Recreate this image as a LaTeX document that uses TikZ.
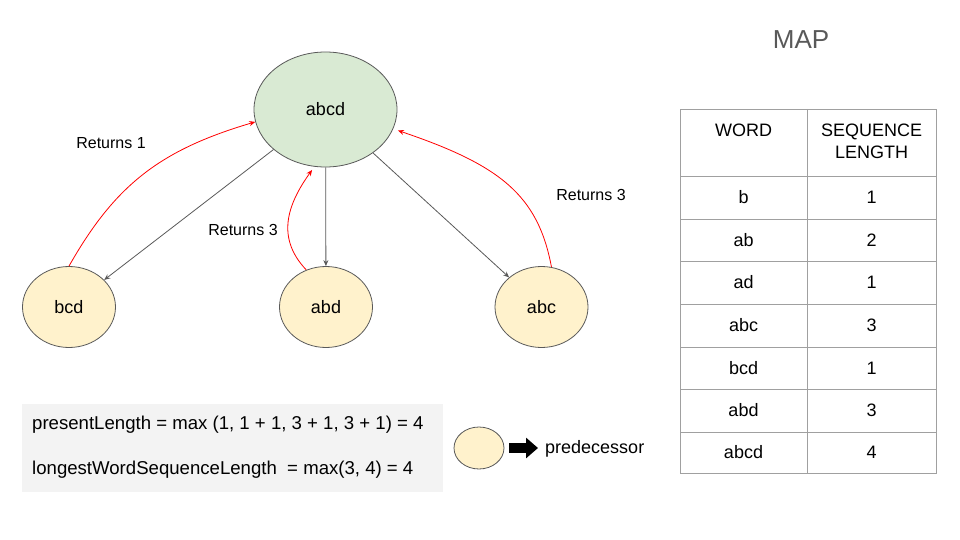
\documentclass[tikz,border=0pt]{standalone}
\usepackage{fontspec}
\setmainfont{Liberation Sans}
\usetikzlibrary{arrows.meta,shapes.geometric}
\definecolor{nodegreen}{HTML}{D9EAD3}
\definecolor{nodeyellow}{HTML}{FFF2CC}
\definecolor{edgegray}{HTML}{595959}
\definecolor{rulegray}{HTML}{A0A0A0}
\definecolor{boxgray}{HTML}{F3F3F3}
\definecolor{titlegray}{HTML}{595959}

\begin{document}
\begin{tikzpicture}[x=1pt,y=-1pt,
  wordnode/.style={ellipse, draw=edgegray, line width=0.8pt, inner sep=0pt,
    minimum width=93pt, minimum height=81pt, fill=nodeyellow,
    font=\fontsize{18}{21}\selectfont},
  rootnode/.style={wordnode, fill=nodegreen, minimum width=143pt, minimum height=115pt},
  calls/.style={draw=edgegray, line width=0.8pt, -{Stealth[length=6pt,width=5pt]}},
  returns/.style={draw=red, line width=0.8pt, -{Stealth[length=6pt,width=5pt]}},
  retlabel/.style={font=\fontsize{16}{19}\selectfont, inner sep=0pt},
  cell/.style={font=\fontsize{18}{21}\selectfont, inner sep=0pt, align=center},
  formula/.style={font=\fontsize{18.6}{22}\selectfont, anchor=west, inner sep=0pt},
  rule/.style={draw=rulegray, line width=0.8pt}
]
\useasboundingbox (0,0) rectangle (960,540);

% recursion tree
\node[rootnode] (abcd) at (325.5,109.5) {abcd};
\node[wordnode] (bcd) at (69,307) {bcd};
\node[wordnode] (abd) at (326,307) {abd};
\node[wordnode] (abc) at (541.5,307) {abc};

\draw[calls] (abcd) -- (bcd);
\draw[calls] (abcd) -- (abd);
\draw[calls] (abcd) -- (abc);

\draw[returns] (bcd.north) .. controls (115,185) and (160,150) .. (abcd.190);
\draw[returns, shorten >=4pt] (abd.118) .. controls (276,238) and (287,205) .. (abcd.259);
\draw[returns, shorten >=5pt] (abc.76) .. controls (538,195) and (500,165) .. (abcd.344);

\node[retlabel] (r1) at (111,143) {Returns 1};
\node[retlabel] (r2) at (243,230) {Returns 3};
\node[retlabel] (r3) at (591,195) {Returns 3};

% formulas
\node[fill=boxgray, minimum width=421pt, minimum height=88pt, inner sep=0pt] (box) at (232.5,448) {};
\node[formula] (f1) at (32,425) {presentLength = max (1, 1 + 1, 3 + 1, 3 + 1) = 4};
\node[formula] (f2) at (32,470) {longestWordSequenceLength\ \ = max(3, 4) = 4};

% legend
\node[wordnode, minimum width=50pt, minimum height=42pt] (legend) at (479,448) {};
\node[font=\fontsize{18}{21}\selectfont, anchor=west, inner sep=0pt] (pred) at (545,449) {predecessor};
\draw[line width=10pt, -{Triangle[length=12pt,width=20pt]}, shorten <=5pt, shorten >=7pt]
  (legend.east) -- (pred.west |- legend.east);

% map table
\node[font=\fontsize{26}{30}\selectfont, text=titlegray] (title) at (801,40) {MAP};
\draw[rule] (680,109) rectangle (936,473);
\draw[rule] (807,109) -- (807,473);
\foreach \y in {176,219,261,304,347,389,432}
  \draw[rule] (680,\y) -- (936,\y);

\node[cell, anchor=north] (h1) at (743.5,124) {WORD};
\node[cell, anchor=north] (h2) at (871.5,124) {SEQUENCE\\[1pt]LENGTH};

\foreach \w/\n/\y [count=\i] in {b/1/197.5, ab/2/240, ad/1/282.5, abc/3/325.5, bcd/1/368, abd/3/410.5, abcd/4/452.5} {
  \node[cell] (w\i) at (743.5,\y) {\w};
  \node[cell] (n\i) at (871.5,\y) {\n};
}
\end{tikzpicture}
\end{document}
